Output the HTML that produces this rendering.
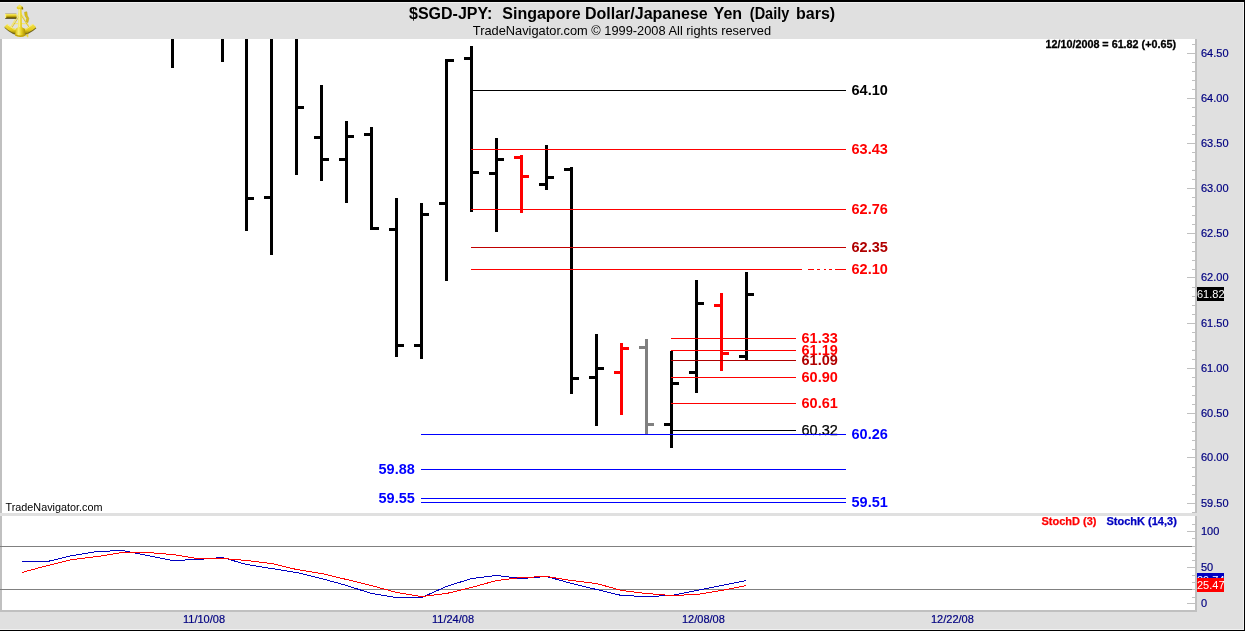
<!DOCTYPE html>
<html><head><meta charset="utf-8"><title>$SGD-JPY</title>
<style>
html,body{margin:0;padding:0;background:#e0e0e0;}
body{width:1245px;height:631px;overflow:hidden;position:relative;font-family:"Liberation Sans",sans-serif;}
svg{position:absolute;left:0;top:0;display:block}
text{font-family:"Liberation Sans",sans-serif;}
</style></head><body>
<svg width="1245" height="631" viewBox="0 0 1245 631">
<rect x="0" y="0" width="1245" height="631" fill="#e0e0e0"/>
<!-- chart white areas -->
<rect x="0" y="39" width="1197" height="474" fill="#fff"/>
<rect x="0" y="516" width="1197" height="94" fill="#fff"/>
<g shape-rendering="crispEdges">
<!-- frame -->
<rect x="0" y="0" width="1245" height="2" fill="#000"/>
<rect x="0" y="2" width="1244" height="1" fill="#f0f0f0"/>
<rect x="0" y="629" width="1244" height="1" fill="#f0f0f0"/>
<rect x="1243" y="2" width="1" height="628" fill="#f0f0f0"/>
<rect x="0" y="630" width="1245" height="1" fill="#000"/>
<rect x="1244" y="0" width="1" height="631" fill="#000"/>
<rect x="0" y="39" width="2" height="474" fill="#c0c0c0"/>
<rect x="0" y="516" width="2" height="96" fill="#c0c0c0"/>
<rect x="0" y="610" width="1197" height="2" fill="#c0c0c0"/>
<rect x="1195" y="39" width="2" height="474" fill="#c0c0c0"/>
<rect x="1195" y="516" width="2" height="96" fill="#c0c0c0"/>

<g fill="#c0c0c0">
<rect x="1187" y="53" width="8" height="1"/>
<rect x="1187" y="98" width="8" height="1"/>
<rect x="1187" y="143" width="8" height="1"/>
<rect x="1187" y="188" width="8" height="1"/>
<rect x="1187" y="233" width="8" height="1"/>
<rect x="1187" y="277" width="8" height="1"/>
<rect x="1187" y="323" width="8" height="1"/>
<rect x="1187" y="368" width="8" height="1"/>
<rect x="1187" y="413" width="8" height="1"/>
<rect x="1187" y="457" width="8" height="1"/>
<rect x="1187" y="503" width="8" height="1"/>
<rect x="1192" y="44" width="3" height="1"/>
<rect x="1192" y="62" width="3" height="1"/>
<rect x="1192" y="71" width="3" height="1"/>
<rect x="1192" y="80" width="3" height="1"/>
<rect x="1192" y="89" width="3" height="1"/>
<rect x="1192" y="107" width="3" height="1"/>
<rect x="1192" y="116" width="3" height="1"/>
<rect x="1192" y="125" width="3" height="1"/>
<rect x="1192" y="134" width="3" height="1"/>
<rect x="1192" y="152" width="3" height="1"/>
<rect x="1192" y="161" width="3" height="1"/>
<rect x="1192" y="170" width="3" height="1"/>
<rect x="1192" y="179" width="3" height="1"/>
<rect x="1192" y="197" width="3" height="1"/>
<rect x="1192" y="206" width="3" height="1"/>
<rect x="1192" y="215" width="3" height="1"/>
<rect x="1192" y="224" width="3" height="1"/>
<rect x="1192" y="242" width="3" height="1"/>
<rect x="1192" y="251" width="3" height="1"/>
<rect x="1192" y="260" width="3" height="1"/>
<rect x="1192" y="269" width="3" height="1"/>
<rect x="1192" y="287" width="3" height="1"/>
<rect x="1192" y="296" width="3" height="1"/>
<rect x="1192" y="305" width="3" height="1"/>
<rect x="1192" y="314" width="3" height="1"/>
<rect x="1192" y="332" width="3" height="1"/>
<rect x="1192" y="341" width="3" height="1"/>
<rect x="1192" y="350" width="3" height="1"/>
<rect x="1192" y="359" width="3" height="1"/>
<rect x="1192" y="377" width="3" height="1"/>
<rect x="1192" y="386" width="3" height="1"/>
<rect x="1192" y="395" width="3" height="1"/>
<rect x="1192" y="404" width="3" height="1"/>
<rect x="1192" y="422" width="3" height="1"/>
<rect x="1192" y="431" width="3" height="1"/>
<rect x="1192" y="440" width="3" height="1"/>
<rect x="1192" y="449" width="3" height="1"/>
<rect x="1192" y="467" width="3" height="1"/>
<rect x="1192" y="476" width="3" height="1"/>
<rect x="1192" y="485" width="3" height="1"/>
<rect x="1192" y="494" width="3" height="1"/>
<rect x="1192" y="512" width="3" height="1"/>
<rect x="1192" y="524" width="3" height="1"/>
<rect x="1187" y="531" width="8" height="1"/>
<rect x="1192" y="538" width="3" height="1"/>
<rect x="1192" y="546" width="3" height="1"/>
<rect x="1192" y="553" width="3" height="1"/>
<rect x="1192" y="560" width="3" height="1"/>
<rect x="1187" y="567" width="8" height="1"/>
<rect x="1192" y="575" width="3" height="1"/>
<rect x="1192" y="582" width="3" height="1"/>
<rect x="1192" y="589" width="3" height="1"/>
<rect x="1192" y="597" width="3" height="1"/>
<rect x="1187" y="603" width="8" height="1"/>
</g>
<rect x="0" y="546" width="1192" height="1" fill="#808080"/>
<rect x="0" y="589" width="1192" height="1" fill="#808080"/>
<rect x="171" y="39" width="3" height="29" fill="#000"/>
<rect x="221" y="39" width="3" height="23" fill="#000"/>
<rect x="245" y="39" width="3" height="192" fill="#000"/>
<rect x="248" y="197" width="6" height="3" fill="#000"/>
<rect x="270" y="39" width="3" height="216" fill="#000"/>
<rect x="264" y="196" width="6" height="3" fill="#000"/>
<rect x="295" y="39" width="3" height="136" fill="#000"/>
<rect x="298" y="106" width="6" height="3" fill="#000"/>
<rect x="320" y="85" width="3" height="96" fill="#000"/>
<rect x="314" y="136" width="6" height="3" fill="#000"/>
<rect x="323" y="158" width="6" height="3" fill="#000"/>
<rect x="345" y="121" width="3" height="82" fill="#000"/>
<rect x="339" y="158" width="6" height="3" fill="#000"/>
<rect x="348" y="135" width="6" height="3" fill="#000"/>
<rect x="370" y="127" width="3" height="103" fill="#000"/>
<rect x="364" y="133" width="6" height="3" fill="#000"/>
<rect x="373" y="227" width="6" height="3" fill="#000"/>
<rect x="395" y="198" width="3" height="159" fill="#000"/>
<rect x="389" y="228" width="6" height="3" fill="#000"/>
<rect x="398" y="344" width="6" height="3" fill="#000"/>
<rect x="420" y="203" width="3" height="156" fill="#000"/>
<rect x="414" y="344" width="6" height="3" fill="#000"/>
<rect x="423" y="213" width="6" height="3" fill="#000"/>
<rect x="445" y="59" width="3" height="222" fill="#000"/>
<rect x="439" y="202" width="6" height="3" fill="#000"/>
<rect x="448" y="59" width="6" height="3" fill="#000"/>
<rect x="470" y="46" width="3" height="166" fill="#000"/>
<rect x="464" y="57" width="6" height="3" fill="#000"/>
<rect x="473" y="171" width="6" height="3" fill="#000"/>
<rect x="495" y="138" width="3" height="94" fill="#000"/>
<rect x="489" y="172" width="6" height="3" fill="#000"/>
<rect x="498" y="158" width="6" height="3" fill="#000"/>
<rect x="520" y="155" width="3" height="58" fill="#f00"/>
<rect x="514" y="156" width="6" height="3" fill="#f00"/>
<rect x="523" y="175" width="6" height="3" fill="#f00"/>
<rect x="545" y="145" width="3" height="45" fill="#000"/>
<rect x="539" y="183" width="6" height="3" fill="#000"/>
<rect x="548" y="176" width="6" height="3" fill="#000"/>
<rect x="570" y="167" width="3" height="227" fill="#000"/>
<rect x="564" y="168" width="6" height="3" fill="#000"/>
<rect x="573" y="377" width="6" height="3" fill="#000"/>
<rect x="595" y="334" width="3" height="92" fill="#000"/>
<rect x="589" y="376" width="6" height="3" fill="#000"/>
<rect x="598" y="367" width="6" height="3" fill="#000"/>
<rect x="620" y="343" width="3" height="72" fill="#f00"/>
<rect x="614" y="371" width="6" height="3" fill="#f00"/>
<rect x="623" y="347" width="6" height="3" fill="#f00"/>
<rect x="645" y="339" width="3" height="95" fill="#808080"/>
<rect x="639" y="346" width="6" height="3" fill="#808080"/>
<rect x="648" y="423" width="6" height="3" fill="#808080"/>
<rect x="670" y="351" width="3" height="97" fill="#000"/>
<rect x="664" y="423" width="6" height="3" fill="#000"/>
<rect x="673" y="382" width="6" height="3" fill="#000"/>
<rect x="695" y="280" width="3" height="113" fill="#000"/>
<rect x="689" y="371" width="6" height="3" fill="#000"/>
<rect x="698" y="302" width="6" height="3" fill="#000"/>
<rect x="720" y="293" width="3" height="78" fill="#f00"/>
<rect x="714" y="304" width="6" height="3" fill="#f00"/>
<rect x="723" y="352" width="6" height="3" fill="#f00"/>
<rect x="745" y="272" width="3" height="88" fill="#000"/>
<rect x="739" y="355" width="6" height="3" fill="#000"/>
<rect x="748" y="293" width="6" height="3" fill="#000"/>
</g>
<text x="851.5" y="94.9" font-size="15" font-weight="bold" fill="#000" textLength="36.3" lengthAdjust="spacingAndGlyphs">64.10</text>
<text x="851.5" y="153.9" font-size="15" font-weight="bold" fill="#f00" textLength="36.3" lengthAdjust="spacingAndGlyphs">63.43</text>
<text x="851.5" y="213.9" font-size="15" font-weight="bold" fill="#f00" textLength="36.3" lengthAdjust="spacingAndGlyphs">62.76</text>
<text x="851.5" y="251.9" font-size="15" font-weight="bold" fill="#b00000" textLength="36.3" lengthAdjust="spacingAndGlyphs">62.35</text>
<text x="851.5" y="273.9" font-size="15" font-weight="bold" fill="#f00" textLength="36.3" lengthAdjust="spacingAndGlyphs">62.10</text>
<text x="801.5" y="342.9" font-size="15" font-weight="bold" fill="#f00" textLength="36.3" lengthAdjust="spacingAndGlyphs">61.33</text>
<text x="801.5" y="354.9" font-size="15" font-weight="bold" fill="#f00" textLength="36.3" lengthAdjust="spacingAndGlyphs">61.19</text>
<text x="801.5" y="364.9" font-size="15" font-weight="bold" fill="#b00000" textLength="36.3" lengthAdjust="spacingAndGlyphs">61.09</text>
<text x="801.5" y="381.9" font-size="15" font-weight="bold" fill="#f00" textLength="36.3" lengthAdjust="spacingAndGlyphs">60.90</text>
<text x="801.5" y="407.9" font-size="15" font-weight="bold" fill="#f00" textLength="36.3" lengthAdjust="spacingAndGlyphs">60.61</text>
<text x="801.5" y="434.9" font-size="15" font-weight="normal" fill="#000" stroke="#000" stroke-width="0.25" textLength="36.3" lengthAdjust="spacingAndGlyphs">60.32</text>
<text x="851.5" y="438.9" font-size="15" font-weight="bold" fill="#00f" textLength="36.3" lengthAdjust="spacingAndGlyphs">60.26</text>
<text x="378.5" y="473.9" font-size="15" font-weight="bold" fill="#00f" textLength="36.3" lengthAdjust="spacingAndGlyphs">59.88</text>
<text x="378.5" y="502.9" font-size="15" font-weight="bold" fill="#00f" textLength="36.3" lengthAdjust="spacingAndGlyphs">59.55</text>
<text x="851.5" y="506.9" font-size="15" font-weight="bold" fill="#00f" textLength="36.3" lengthAdjust="spacingAndGlyphs">59.51</text>
<g shape-rendering="crispEdges">
<rect x="471" y="90" width="375" height="1" fill="#000"/>
<rect x="471" y="149" width="375" height="1" fill="#f00"/>
<rect x="471" y="209" width="375" height="1" fill="#f00"/>
<rect x="471" y="247" width="375" height="1" fill="#c00000"/>
<rect x="471" y="269" width="331" height="1" fill="#f00"/>
<rect x="671" y="338" width="125" height="1" fill="#f00"/>
<rect x="671" y="350" width="125" height="1" fill="#f00"/>
<rect x="671" y="360" width="125" height="1" fill="#b00000"/>
<rect x="671" y="377" width="125" height="1" fill="#f00"/>
<rect x="671" y="403" width="125" height="1" fill="#f00"/>
<rect x="671" y="430" width="125" height="1" fill="#000"/>
<rect x="421" y="434" width="425" height="1" fill="#00f"/>
<rect x="421" y="469" width="425" height="1" fill="#00f"/>
<rect x="421" y="498" width="425" height="1" fill="#00f"/>
<rect x="421" y="502" width="425" height="1" fill="#00f"/>
<rect x="808" y="269" width="6" height="1" fill="#f00"/>
<rect x="817" y="269" width="3" height="1" fill="#f00"/>
<rect x="824" y="269" width="2" height="1" fill="#f00"/>
<rect x="829" y="269" width="3" height="1" fill="#f00"/>
<rect x="835" y="269" width="11" height="1" fill="#f00"/>
<polyline points="22,561.5 47.5,561.5 72.5,555.5 97.5,551.5 122.5,550.5 147.5,555.5 172.5,560.5 197.5,559.5 222.5,557.5 246.5,564.5 271.5,568.5 296.5,572.5 321.5,578.5 346.5,585.5 371.5,593.5 396.5,597.5 421.5,597.5 446.5,586.5 471.5,578.5 496.5,575.5 521.5,578.5 546.5,576.5 571.5,583.5 596.5,589.5 621.5,595.5 646.5,596.5 671.5,595.5 696.5,590.5 721.5,585.5 746.5,580.5" fill="none" stroke="#0000c0" stroke-width="1"/>
<polyline points="22,572.5 47.5,565.5 72.5,559.5 97.5,556.5 122.5,552.5 147.5,552.5 172.5,554.5 197.5,558.5 222.5,558.5 246.5,560.5 271.5,563.5 296.5,569.5 321.5,573.5 346.5,579.5 371.5,585.5 396.5,592.5 421.5,596.5 446.5,593.5 471.5,587.5 496.5,580.5 521.5,577.5 546.5,576.5 571.5,580.5 596.5,583.5 621.5,590.5 646.5,593.5 671.5,595.5 696.5,594.5 721.5,590.5 746.5,585.5" fill="none" stroke="#f00" stroke-width="1"/>
</g>
<text x="409.0" y="18.5" font-size="16" font-weight="bold" fill="#000">$SGD-JPY:</text>
<text x="502.3" y="18.5" font-size="16" font-weight="bold" fill="#000">Singapore</text>
<text x="585.0" y="18.5" font-size="16" font-weight="bold" fill="#000">Dollar/Japanese</text>
<text x="713.6" y="18.5" font-size="16" font-weight="bold" fill="#000">Yen</text>
<text x="749.8" y="18.5" font-size="16" font-weight="bold" fill="#000" textLength="39.5" lengthAdjust="spacingAndGlyphs">(Daily</text>
<text x="796.0" y="18.5" font-size="16" font-weight="bold" fill="#000">bars)</text>
<text x="472.8" y="35" font-size="13" fill="#000" textLength="298.3" lengthAdjust="spacingAndGlyphs">TradeNavigator.com © 1999-2008 All rights reserved</text>
<text x="1045.5" y="48" font-size="11" font-weight="bold" fill="#000" stroke="#000" stroke-width="0.3" textLength="130.5" lengthAdjust="spacingAndGlyphs">12/10/2008 = 61.82 (+0.65)</text>
<text x="5.5" y="511" font-size="11" fill="#000" textLength="97" lengthAdjust="spacingAndGlyphs">TradeNavigator.com</text>
<text x="1041.5" y="525" font-size="11" font-weight="bold" fill="#f00" stroke="#f00" stroke-width="0.25">StochD (3)</text>
<text x="1106.5" y="525" font-size="11" font-weight="bold" fill="#0000c0" stroke="#0000c0" stroke-width="0.25">StochK (14,3)</text>
<text x="1201" y="57" font-size="11" fill="#000080" stroke="#000080" stroke-width="0.2">64.50</text>
<text x="1201" y="102" font-size="11" fill="#000080" stroke="#000080" stroke-width="0.2">64.00</text>
<text x="1201" y="147" font-size="11" fill="#000080" stroke="#000080" stroke-width="0.2">63.50</text>
<text x="1201" y="192" font-size="11" fill="#000080" stroke="#000080" stroke-width="0.2">63.00</text>
<text x="1201" y="237" font-size="11" fill="#000080" stroke="#000080" stroke-width="0.2">62.50</text>
<text x="1201" y="281" font-size="11" fill="#000080" stroke="#000080" stroke-width="0.2">62.00</text>
<text x="1201" y="327" font-size="11" fill="#000080" stroke="#000080" stroke-width="0.2">61.50</text>
<text x="1201" y="372" font-size="11" fill="#000080" stroke="#000080" stroke-width="0.2">61.00</text>
<text x="1201" y="417" font-size="11" fill="#000080" stroke="#000080" stroke-width="0.2">60.50</text>
<text x="1201" y="461" font-size="11" fill="#000080" stroke="#000080" stroke-width="0.2">60.00</text>
<text x="1201" y="507" font-size="11" fill="#000080" stroke="#000080" stroke-width="0.2">59.50</text>
<text x="1201" y="535" font-size="11" fill="#000080" stroke="#000080" stroke-width="0.2">100</text>
<text x="1201" y="571" font-size="11" fill="#000080" stroke="#000080" stroke-width="0.2">50</text>
<text x="1201" y="607" font-size="11" fill="#000080" stroke="#000080" stroke-width="0.2">0</text>
<rect x="1197" y="287" width="27" height="14" fill="#000" shape-rendering="crispEdges"/>
<text x="1197" y="298" font-size="11" fill="#fff">61.82</text>
<rect x="1197" y="573" width="27" height="14" fill="#0000c0" shape-rendering="crispEdges"/>
<text x="1197" y="584" font-size="11" fill="#fff">29.74</text>
<rect x="1197" y="578" width="27" height="14" fill="#f00" shape-rendering="crispEdges"/>
<text x="1197" y="589" font-size="11" fill="#fff">25.47</text>
<text x="183" y="623" font-size="11" fill="#000080" stroke="#000080" stroke-width="0.2">11/10/08</text>
<text x="432" y="623" font-size="11" fill="#000080" stroke="#000080" stroke-width="0.2">11/24/08</text>
<text x="682" y="623" font-size="11" fill="#000080" stroke="#000080" stroke-width="0.2">12/08/08</text>
<text x="931" y="623" font-size="11" fill="#000080" stroke="#000080" stroke-width="0.2">12/22/08</text>
<g id="sextant">
<defs>
<linearGradient id="gTel" x1="0" y1="0" x2="0" y2="1"><stop offset="0" stop-color="#8f86d8"/><stop offset="0.16" stop-color="#f6ec6a"/><stop offset="0.5" stop-color="#e0c41a"/><stop offset="0.78" stop-color="#7a6600"/><stop offset="1" stop-color="#2a2200"/></linearGradient>
<linearGradient id="gPole" x1="0" y1="0" x2="1" y2="0"><stop offset="0" stop-color="#d9bd10"/><stop offset="0.35" stop-color="#f7ee74"/><stop offset="0.6" stop-color="#e6cf22"/><stop offset="1" stop-color="#a88c00"/></linearGradient>
<linearGradient id="gArc" x1="0" y1="0" x2="0" y2="1"><stop offset="0" stop-color="#f3e352"/><stop offset="0.6" stop-color="#e4ca1c"/><stop offset="1" stop-color="#8a7400"/></linearGradient>
</defs>
<!-- frame legs -->
<path d="M19.3,13 L10.5,27.5 M20.7,13 L29.8,27.5 M12.5,23.6 L28,23.6" stroke="#f1e57a" stroke-width="1.3" fill="none"/>
<path d="M19.6,15.5 L12.2,27.2 M21,15 L28.8,27" stroke="#d8bc18" stroke-width="0.8" fill="none"/>
<!-- right mirror -->
<path d="M24.6,12.2 L26.8,11.8 L27.3,15.5 L28.8,18.6 L27.9,22.6 L26.2,21.6 L26.7,18.4 L25,15.6 Z" fill="#dcc21a" stroke="#b59a08" stroke-width="0.5"/>
<!-- arc shadow -->
<path d="M4.4,27.8 Q20,43.2 36.4,28.3 L35.2,27 Q20,40.5 5.4,26.6 Z" fill="#5e5000" opacity="0.85"/>
<!-- arc -->
<path d="M4.2,26.8 Q20,41.6 36.2,27.3 L32.7,23.8 Q20,35.6 7.4,24.1 Z" fill="url(#gArc)"/>
<path d="M7.2,24.6 Q20,36.2 32.9,24.3" stroke="#fbf39a" stroke-width="0.8" fill="none"/>
<!-- telescope -->
<rect x="5" y="13" width="11.6" height="5.8" rx="0.8" fill="url(#gTel)"/>
<rect x="5" y="14" width="1.2" height="4" fill="#f8ef80"/>
<!-- pole -->
<path d="M18.5,9 L21.5,9 L21.9,26.6 C22,28.2 24.7,27.8 25,29.6 L25.5,35.8 Q20.3,38.2 15.1,35.8 L15.6,29.6 C15.9,27.8 18,28.2 18.1,26.6 Z" fill="url(#gPole)"/>
<path d="M15.2,35.6 Q20.3,38.4 25.3,35.6 L24.8,34.2 Q20.3,36.6 15.7,34.2 Z" fill="#bfa20a"/>
<ellipse cx="19.8" cy="7.7" rx="3.1" ry="1.7" fill="#e6cd20"/>
<path d="M17.5,6.2 L19.6,4.6 L22.4,6.4 L21.5,7.6 L18.2,7.6 Z" fill="#f3e55c"/>
<path d="M21.6,6.2 Q23.8,7.4 23.2,9.4 L21.6,9.6 Z" fill="#8c7600"/>
<rect x="19.1" y="9" width="0.9" height="18" fill="#fbf5a0" opacity="0.8"/>
<!-- small knob -->
<path d="M25.2,35.2 L27.2,35.2 L27.2,33.8 L28.3,33.8 L28.3,37.2 L27.2,37.2 L27.2,36.2 L25.4,36.2 Z" fill="#e9d32c"/>
</g>

</svg></body></html>
